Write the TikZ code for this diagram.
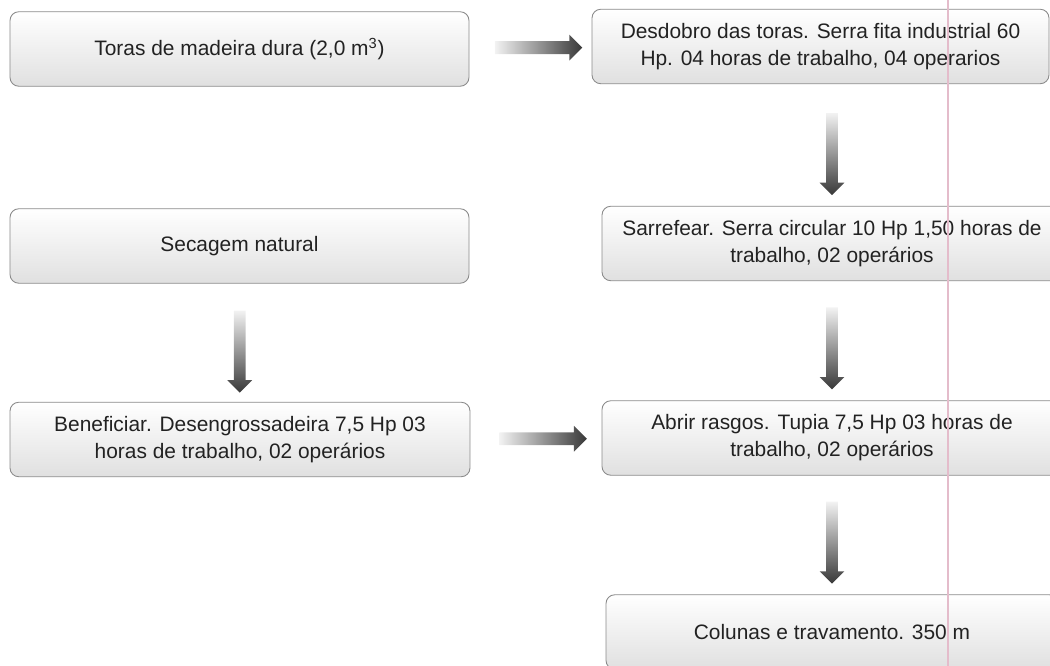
\documentclass[tikz,border=0pt]{standalone}
\usepackage{fontspec}
\setmainfont{Liberation Sans}
\usetikzlibrary{shapes.arrows,positioning}
\definecolor{ink}{HTML}{222222}
\definecolor{rim}{HTML}{8A8A8A}
\definecolor{fade}{HTML}{E0E0E0}
\definecolor{margin}{HTML}{E4BCCB}

\begin{document}
\begin{tikzpicture}[line width=.5pt]
      \tikzset{
        etapa/.style={rectangle,rounded corners=5pt,draw=rim,top color=white,bottom color=fade,
            minimum width=9.18cm,minimum height=1.49cm,inner sep=0pt,align=center,text=ink,
            font=\fontsize{11.9}{15.4}\selectfont},
        seta/.style={single arrow,draw=none,minimum height=1.75cm,
            inner xsep=0pt,inner ysep=.12cm,single arrow head extend=.13cm,
            single arrow tip angle=90,left color=black!5,right color=black!78},
        desce/.style={seta,minimum height=1.64cm,inner ysep=.11cm,rotate=-90,
            top color=black!5,bottom color=black!78}
      }
      \useasboundingbox (0,0) rectangle (21,-13.32);
      \clip (0,0) rectangle (21,-13.32);

      % left column
      \node[etapa] (toras) at (4.79,-.98) {Toras de madeira dura (2,0 m\textsuperscript{3})};
      \node[etapa] (secagem) at (4.79,-4.92) {Secagem natural};
      \node[etapa,minimum width=9.2cm] (benef) at (4.8,-8.79)
        {Beneficiar. Desengrossadeira 7,5 Hp 03\\horas de trabalho, 02 operários};

      % right column
      \node[etapa,minimum width=9.14cm] (desdobro) at (16.41,-.93)
        {Desdobro das toras. Serra fita industrial 60\\Hp. 04 horas de trabalho, 04 operarios};
      \node[etapa,minimum width=9.2cm] (sarrefear) at (16.64,-4.87)
        {Sarrefear. Serra circular 10 Hp 1,50 horas de\\trabalho, 02 operários};
      \node[etapa,minimum width=9.2cm] (rasgos) at (16.64,-8.76)
        {Abrir rasgos. Tupia 7,5 Hp 03 horas de\\trabalho, 02 operários};
      \node[etapa,minimum width=9.04cm] (colunas) at (16.64,-12.64)
        {Colunas e travamento. 350 m};

      \path (toras.east)--node[seta,pos=.54]{}(desdobro.west);
      \path (desdobro.south -| sarrefear.north)--node[desce,pos=.55]{}(sarrefear.north);
      \path (sarrefear.south)--node[desce,pos=.54]{}(rasgos.north);
      \path (rasgos.south)--node[desce,pos=.54]{}(colunas.north);
      \path (secagem.south)--node[desce,pos=.55]{}(benef.north);
      \path (benef.east)--node[seta,pos=.53]{}(rasgos.west);

      \draw[margin,line width=.04cm] (18.96,0)--(18.96,-13.32);
    \end{tikzpicture}
\end{document}
